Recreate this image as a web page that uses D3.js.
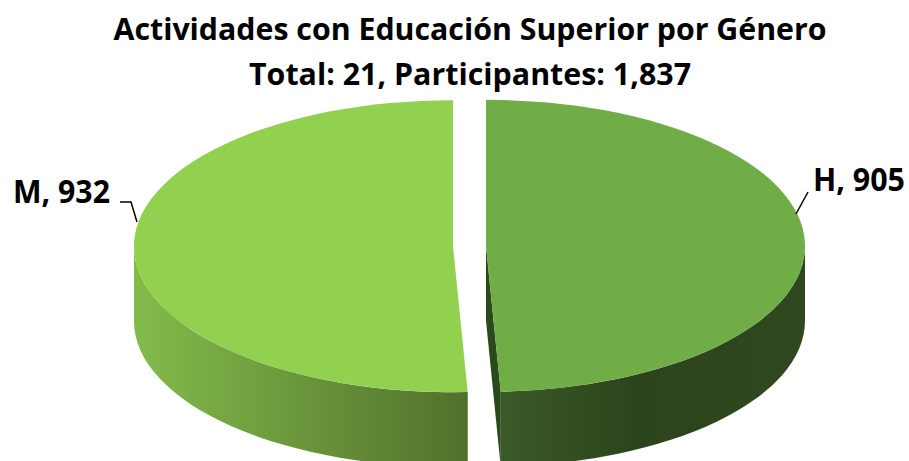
<html lang="es">
<head>
<meta charset="utf-8">
<title>Actividades con Educación Superior por Género</title>
<script src="https://cdnjs.cloudflare.com/ajax/libs/d3/7.8.5/d3.min.js"></script>
<style>
  body { margin: 0; background: white; }
  svg { display: block; font-family: "Open Sans", Lato, sans-serif; }
  .title { font-size: 31px; font-weight: bold; fill: black; }
  .label { font-size: 32px; font-weight: bold; fill: black; }
  .leader { fill: none; stroke: black; stroke-width: 1.5; }
</style>
</head>
<body>
<script>
// data
var categories = ["H", "M"];
var values = [905, 932];
var titleLines = ["Actividades con Educación Superior por Género", "Total: 21, Participantes: 1,837"];
var topColors = ["#70ad47", "#92d050"];

var fullwidth = 909, fullheight = 461;

// ellipse of the pie top face
var cx = 469.5, cy = 246, rx = 319, ry = 146;
var depth = 75, explode = 16.5;

var svg = d3.select("body").append("svg")
  .attr("width", fullwidth)
  .attr("height", fullheight);

var defs = svg.append("defs");

var gM = defs.append("linearGradient").attr("id", "sideM")
  .attr("gradientUnits", "userSpaceOnUse")
  .attr("x1", 132).attr("x2", 465).attr("y1", 0).attr("y2", 0);
gM.append("stop").attr("offset", "0").attr("stop-color", "#84bc4b");
gM.append("stop").attr("offset", "1").attr("stop-color", "#50712c");

var gH = defs.append("linearGradient").attr("id", "sideH")
  .attr("gradientUnits", "userSpaceOnUse")
  .attr("x1", 500).attr("x2", 805).attr("y1", 0).attr("y2", 0);
gH.append("stop").attr("offset", "0").attr("stop-color", "#3b5a27");
gH.append("stop").attr("offset", "0.45").attr("stop-color", "#2c441c");
gH.append("stop").attr("offset", "1").attr("stop-color", "#2f481f");

var sideFill = ["url(#sideH)", "url(#sideM)"];

var pie = d3.pie().sort(null).startAngle(0).endAngle(2 * Math.PI);
var slices = pie(values);

// angle measured clockwise from 12 o'clock
function pt(a, ox, oy, dy) {
  return [ox + rx * Math.sin(a), oy - ry * Math.cos(a) + (dy || 0)];
}

slices.forEach(function(d, i) {
  var mid = (d.startAngle + d.endAngle) / 2;
  d.ox = cx + explode * Math.sin(mid);
  d.oy = cy - explode * ry / rx * Math.cos(mid);
});

function topPath(d) {
  var s = pt(d.startAngle, d.ox, d.oy), e = pt(d.endAngle, d.ox, d.oy);
  var large = (d.endAngle - d.startAngle) > Math.PI ? 1 : 0;
  return "M" + d.ox + "," + d.oy + "L" + s[0] + "," + s[1] +
    "A" + rx + "," + ry + " 0 " + large + " 1 " + e[0] + "," + e[1] + "Z";
}

function sidePath(d) {
  // only the front half (PI/2 .. 3PI/2) is seen
  var a0 = Math.max(d.startAngle, Math.PI / 2);
  var a1 = Math.min(d.endAngle, 3 * Math.PI / 2);
  if (a1 <= a0) return null;
  var s = pt(a0, d.ox, d.oy), e = pt(a1, d.ox, d.oy);
  var eb = pt(a1, d.ox, d.oy, depth), sb = pt(a0, d.ox, d.oy, depth);
  return "M" + s[0] + "," + s[1] +
    "A" + rx + "," + ry + " 0 0 1 " + e[0] + "," + e[1] +
    "L" + eb[0] + "," + eb[1] +
    "A" + rx + "," + ry + " 0 0 0 " + sb[0] + "," + sb[1] + "Z";
}

function cutPath(d) {
  // the inner face at the end angle of H, seen through the gap
  var e = pt(d.endAngle, d.ox, d.oy);
  return "M" + d.ox + "," + d.oy + "L" + e[0] + "," + e[1] +
    "L" + e[0] + "," + (e[1] + depth) + "L" + d.ox + "," + (d.oy + depth) + "Z";
}

var order = [1, 0];
order.forEach(function(i) {
  var d = slices[i];
  var g = svg.append("g").attr("class", "slice " + categories[i]);
  if (i === 0) {
    g.append("path").attr("d", cutPath(d)).attr("fill", "#2b4a1c");
  }
  var sp = sidePath(d);
  if (sp) g.append("path").attr("d", sp).attr("fill", sideFill[i]);
  g.append("path").attr("d", topPath(d)).attr("fill", topColors[i]);
});

// title
var titleY = [40, 85];
var titleW = [713, 442];
svg.selectAll("text.title").data(titleLines).enter().append("text")
  .attr("class", "title")
  .attr("x", 470)
  .attr("y", function(d, i) { return titleY[i]; })
  .attr("text-anchor", "middle")
  .attr("textLength", function(d, i) { return titleW[i]; })
  .attr("lengthAdjust", "spacingAndGlyphs")
  .text(function(d) { return d; });

// labels with leader lines
var labelPos = [
  { x: 813, y: 191, w: 92, anchor: "start", line: [[808, 192], [796, 214]] },
  { x: 110, y: 203, w: 97, anchor: "end", line: [[120, 202], [131, 202], [137, 222]] }
];

slices.forEach(function(d, i) {
  var lp = labelPos[i];
  svg.append("path").attr("class", "leader").attr("d", d3.line()(lp.line));
  svg.append("text").attr("class", "label")
    .attr("x", lp.x).attr("y", lp.y)
    .attr("text-anchor", lp.anchor)
    .attr("textLength", lp.w)
    .attr("lengthAdjust", "spacingAndGlyphs")
    .text(categories[i] + ", " + d3.format(",")(d.data));
});
</script>
</body>
</html>
